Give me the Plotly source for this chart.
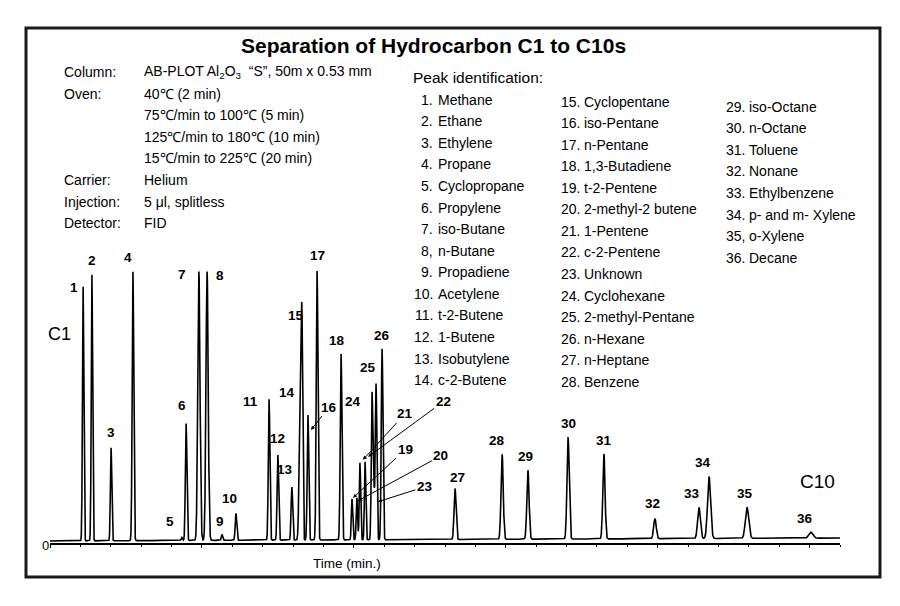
import numpy as np
import plotly.graph_objects as go

# ---------------- data ----------------
peak_numbers = list(range(1, 37))
peak_num_labels = ["1.", "2.", "3.", "4.", "5.", "6.", "7.", "8,", "9.", "10.", "11.", "12.",
                   "13.", "14.", "15.", "16.", "17.", "18.", "19.", "20.", "21.", "22.", "23.",
                   "24.", "25.", "26.", "27.", "28.", "29.", "30.", "31.", "32.", "33.", "34.",
                   "35,", "36."]
compounds = ["Methane", "Ethane", "Ethylene", "Propane", "Cyclopropane", "Propylene",
             "iso-Butane", "n-Butane", "Propadiene", "Acetylene", "t-2-Butene", "1-Butene",
             "Isobutylene", "c-2-Butene", "Cyclopentane", "iso-Pentane", "n-Pentane",
             "1,3-Butadiene", "t-2-Pentene", "2-methyl-2 butene", "1-Pentene", "c-2-Pentene",
             "Unknown", "Cyclohexane", "2-methyl-Pentane", "n-Hexane", "n-Heptane", "Benzene",
             "iso-Octane", "n-Octane", "Toluene", "Nonane", "Ethylbenzene", "p- and m- Xylene",
             "o-Xylene", "Decane"]
# retention time (min)
retention_times = [1.09, 1.38, 2.01, 2.73, 4.34, 4.48, 4.90, 5.17, 5.66, 6.12, 7.21, 7.50,
                   7.96, 8.23, 8.29, 8.49, 8.79, 9.58, 9.94, 10.10, 10.20, 10.37, 10.66,
                   10.60, 10.73, 10.93, 13.33, 14.88, 15.73, 17.05, 18.23, 19.91, 21.36,
                   21.69, 22.94, 25.04]
# peak height above baseline (detector units)
peak_heights = [254, 266, 93, 269, 3, 117, 269, 269, 6, 27, 141, 85,
                53, 137, 211, 125, 269, 186, 41, 42, 77, 78, 46,
                147, 156, 191, 51, 85, 69, 102, 85, 20, 31,
                62, 31, 6]
# peak width (sigma, min)
peak_sigmas = [0.022, 0.022, 0.022, 0.025, 0.022, 0.025, 0.036, 0.036, 0.022, 0.025, 0.025, 0.025,
               0.025, 0.032, 0.025, 0.025, 0.027, 0.027, 0.022, 0.022, 0.022, 0.022, 0.022,
               0.025, 0.025, 0.027, 0.032, 0.036, 0.036, 0.036, 0.036, 0.042, 0.045,
               0.050, 0.055, 0.065]
baseline_times = [0.0, 26.0]
baseline_levels = [2.0, 5.0]

info_labels = ["Column:", "Oven:", "", "", "", "Carrier:", "Injection:", "Detector:"]
info_values = ["AB-PLOT Al<sub>2</sub>O<sub>3</sub>\u00a0\u00a0\u201cS\u201d, 50m x 0.53 mm",
               "40\u2103 (2 min)",
               "75\u2103/min to 100\u2103 (5 min)",
               "125\u2103/min to 180\u2103 (10 min)",
               "15\u2103/min to 225\u2103 (20 min)",
               "Helium",
               "5 \u03bcl, splitless",
               "FID"]

# ---------------- layout helpers ----------------
# page body has an 8px margin, so the figure is drawn 8px in from the window corner
OFF = 8
W, H = 900 - OFF, 606 - OFF
PLOT_X0, PLOT_X1 = 50, 840     # window pixels of plot area
PLOT_Y0, PLOT_Y1 = 40, 543
L = PLOT_X0 - OFF
T = PLOT_Y0 - OFF
R = W - (PLOT_X1 - OFF)
B = H - (PLOT_Y1 - OFF)
PW = PLOT_X1 - PLOT_X0
PH = PLOT_Y1 - PLOT_Y0
X_RANGE = [0, 26]
Y_RANGE = [0, PH]


def px(x):
    return (x - PLOT_X0) / PW


def py(y):
    return (PLOT_Y1 - y) / PH


FONT = "Liberation Sans, Arial, sans-serif"

t = np.linspace(X_RANGE[0], X_RANGE[1], 13001)
base = np.interp(t, baseline_times, baseline_levels)
signal = base.copy()
for rt, h, s in zip(retention_times, peak_heights, peak_sigmas):
    signal += h * np.exp(-0.5 * ((t - rt) / s) ** 2)

fig = go.Figure()
fig.add_trace(go.Scatter(x=t, y=signal, mode="lines",
                         line=dict(color="black", width=1.6),
                         hoverinfo="skip", showlegend=False))

annotations = []


def txt(x, y, text, size=14, xanchor="center", bold=False):
    f = dict(family=FONT, size=size, color="black")
    if bold:
        f["weight"] = "bold"
    annotations.append(dict(x=px(x), y=py(y), xref="paper", yref="paper", text=text,
                            xanchor=xanchor, yanchor="middle", showarrow=False, font=f))


# peak labels: (xshift, yshift) in pixels relative to peak apex
label_shift = {1: (-9, -1), 2: (0, 14), 3: (0, 15), 4: (-5, 14), 5: (-12, 16), 6: (-4, 18),
               7: (-17, -3), 8: (13, -4), 9: (-2, 13), 10: (-6, 15), 11: (-19, -2), 12: (0, 17),
               13: (-7, 18), 14: (-13, 11), 15: (-6, 14), 17: (0, 15), 18: (-4, 13),
               24: (-19, -9), 25: (-8, 16), 26: (0, 13), 27: (2, 11), 28: (-5, 14),
               29: (-2, 14), 30: (0, 14), 31: (0, 13), 32: (-2, 15), 33: (-7, 14),
               34: (-6, 14), 35: (-2, 14), 36: (-6, 14)}
# arrow labels: tip shift from apex (xshift, yshift) and text offset (ax, ay)
arrow_labels = {16: (3, -15, 18, -23), 19: (1, 1, 52, -48), 20: (1, -3, 83, -45),
                21: (3, 3, 42, -46), 22: (3, 5, 75, -55), 23: (4, -8, 47, -15)}

for n, rt, h in zip(peak_numbers, retention_times, peak_heights):
    apex = h + float(np.interp(rt, baseline_times, baseline_levels))
    font = dict(family=FONT, size=13.5, color="black", weight="bold")
    if n in arrow_labels:
        xs, ys, ax, ay = arrow_labels[n]
        annotations.append(dict(x=rt, y=apex, xref="x", yref="y", text=str(n),
                                xshift=xs, yshift=ys, showarrow=True, ax=ax, ay=ay,
                                arrowhead=2, arrowsize=0.8, arrowwidth=1, arrowcolor="black",
                                font=font))
    else:
        xs, ys = label_shift[n]
        annotations.append(dict(x=rt, y=apex, xref="x", yref="y", text=str(n),
                                xanchor="center", yanchor="middle",
                                xshift=xs, yshift=ys, showarrow=False, font=font))

# title
txt(433, 45, "Separation of Hydrocarbon C1 to C10s", size=21, bold=True)

# info block
info_y = [72, 94, 115, 137, 158, 180, 202, 223]
for lab, val, yy in zip(info_labels, info_values, info_y):
    if lab:
        txt(62, yy, lab, xanchor="left")
    txt(142, yy, val, xanchor="left")

# peak identification list
txt(411, 78, "Peak identification:", size=15.5, xanchor="left")
columns = [(0, 14, 435, 436, 99.5, 21.6), (14, 28, 582, 582, 101.7, 21.54),
           (28, 36, 747, 747, 106.7, 21.57)]
for i0, i1, xnum, xname, y0, dy in columns:
    for k, i in enumerate(range(i0, i1)):
        yy = y0 + k * dy
        txt(xnum, yy, peak_num_labels[i], xanchor="right")
        txt(xname, yy, compounds[i], xanchor="left")

# misc text
txt(59, 334, "C1", size=18)
txt(817, 481, "C10", size=19)
txt(347, 563, "Time (min.)", size=13.5)
txt(45, 545, "0", size=13)

fig.update_layout(
    width=W, height=H,
    margin=dict(l=L, r=R, t=T, b=B),
    paper_bgcolor="white", plot_bgcolor="white",
    showlegend=False,
    annotations=annotations,
    shapes=[dict(type="rect", xref="paper", yref="paper",
                 x0=px(26), x1=px(880), y0=py(577), y1=py(28),
                 line=dict(color="#1a1a1a", width=3), fillcolor="rgba(0,0,0,0)",
                 layer="above")],
    xaxis=dict(range=X_RANGE, showgrid=False, zeroline=False, showline=True,
               linecolor="black", linewidth=2, ticks="outside", ticklen=3, tickwidth=1,
               tickcolor="black", tick0=0, dtick=5, showticklabels=False,
               minor=dict(ticks="outside", ticklen=2, dtick=1, tickcolor="black")),
    yaxis=dict(range=Y_RANGE, showgrid=False, zeroline=False, showline=False,
               showticklabels=False, ticks=""),
)

fig.write_html("out.html")
